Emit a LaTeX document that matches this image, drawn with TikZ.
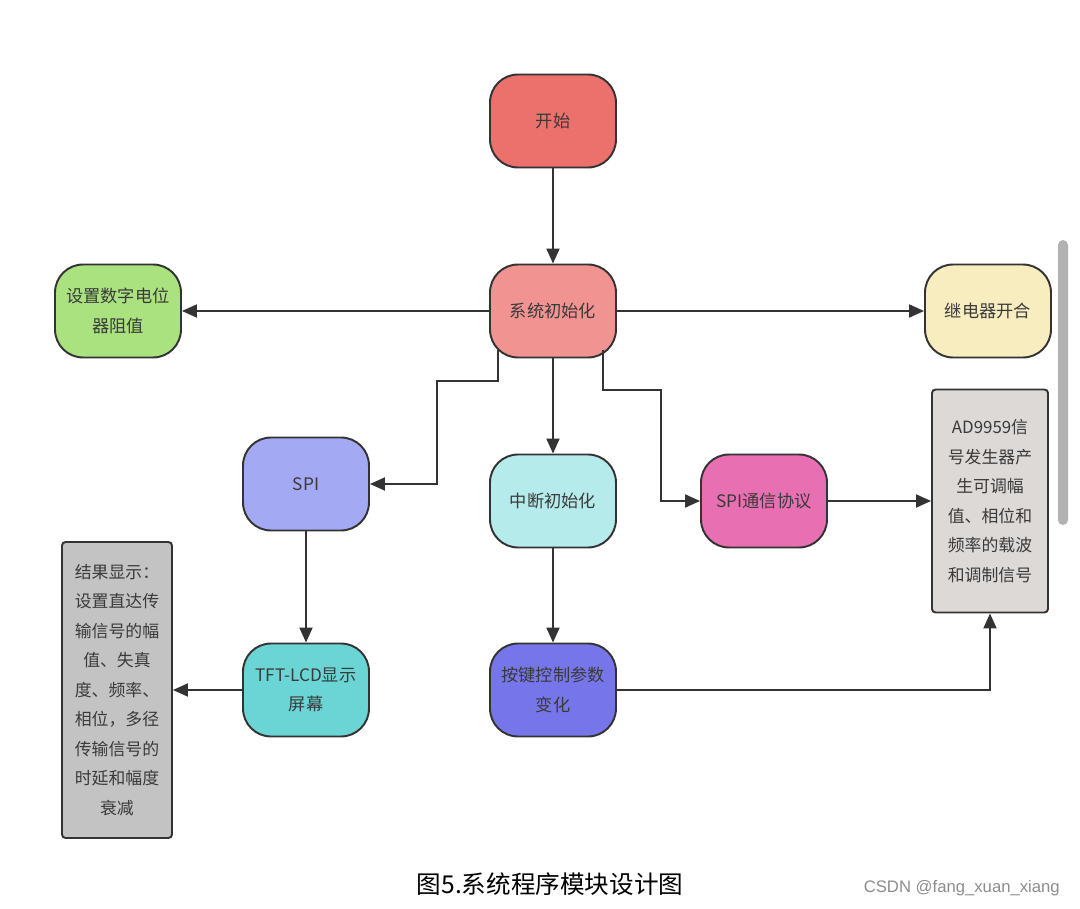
\documentclass[tikz,border=0pt]{standalone}
\usepackage{fontspec}
\setmainfont{Noto Sans CJK SC}
\newfontfamily\latinsans{Liberation Sans}
\usetikzlibrary{arrows.meta,positioning}

\definecolor{cStart}{HTML}{EC706C}
\definecolor{cInit}{HTML}{F09391}
\definecolor{cPot}{HTML}{A9E27F}
\definecolor{cRelay}{HTML}{F7EDBF}
\definecolor{cSpi}{HTML}{A3AAF3}
\definecolor{cIrq}{HTML}{B5EBEB}
\definecolor{cSpiCom}{HTML}{E96FB3}
\definecolor{cAd}{HTML}{DCD9D7}
\definecolor{cResult}{HTML}{C3C3C3}
\definecolor{cTft}{HTML}{6BD5D5}
\definecolor{cKey}{HTML}{7676EA}
\definecolor{cLine}{HTML}{333333}
\definecolor{cText}{HTML}{3A3A3A}

\begin{document}
\begin{tikzpicture}[x=0.02cm,y=-0.02cm,
    blob/.style={draw=cLine,line width=1.1pt,rounded corners=0.56cm,
      minimum width=2.52cm,minimum height=1.86cm,align=center,text=cText,
      font=\fontsize{9.8pt}{16.8pt}\selectfont},
    note/.style={draw=cLine,line width=1.1pt,rounded corners=2pt,align=center,
      text=cText,font=\fontsize{9.6pt}{16.8pt}\selectfont},
    link/.style={draw=cLine,line width=1.1pt,-{Triangle[length=0.3cm,width=0.26cm]}}]
    \useasboundingbox (0,0) rectangle (1080,909);

    % flow boxes
    \node[blob,fill=cStart] (start) at (553,121) {开始};
    \node[blob,fill=cInit] (init) at (553,311) {系统初始化};
    \node[blob,fill=cPot] (pot) at (118,311) {设置数字电位\\器阻值};
    \node[blob,fill=cRelay] (relay) at (988,311) {继电器开合};
    \node[blob,fill=cSpi] (spi) at (306,484) {SPI};
    \node[blob,fill=cIrq] (irq) at (553,501) {中断初始化};
    \node[blob,fill=cSpiCom] (spicom) at (764,501) {SPI通信协议};
    \node[blob,fill=cTft] (tft) at (306,690) {TFT-LCD显示\\屏幕};
    \node[blob,fill=cKey] (key) at (553,690) {按键控制参数\\变化};

    % text boxes
    \node[note,fill=cAd,minimum width=2.32cm,minimum height=4.46cm] (ad) at (990,501)
      {AD9959信\\号发生器产\\生可调幅\\值、相位和\\频率的载波\\和调制信号};
    \node[note,fill=cResult,minimum width=2.2cm,minimum height=5.92cm] (result) at (117,690)
      {结果显示：\\设置直达传\\输信号的幅\\值、失真\\度、频率、\\相位，多径\\传输信号的\\时延和幅度\\衰减};

    % connectors
    \draw[link] (start) -- (init);
    \draw[link] (init) -- (pot);
    \draw[link] (init) -- (relay);
    \draw[link] ([xshift=-1.1cm,yshift=5pt]init.south) |- (437,381) |- (spi.east);
    \draw[link] (init) -- (irq);
    \draw[link] ([xshift=1cm,yshift=5pt]init.south) |- (661,390) |- (spicom.west);
    \draw[link] (spicom) -- (ad);
    \draw[link] (spi) -- (tft);
    \draw[link] (tft) -- (result);
    \draw[link] (irq) -- (key);
    \draw[link] (key.east) -| (ad.south);

    % scroll bar of the screenshot
    \fill[black!30,rounded corners=0.1cm] (1058,240) rectangle (1068,525);

    \node[font=\fontsize{14pt}{16pt}\selectfont] (title) at (550,884) {图5.系统程序模块设计图};
    \node[font=\latinsans\fontsize{9.5pt}{11pt}\selectfont,text=black!45,anchor=east] (mark) at (1066,888) {CSDN @fang\_xuan\_xiang};
\end{tikzpicture}
\end{document}
